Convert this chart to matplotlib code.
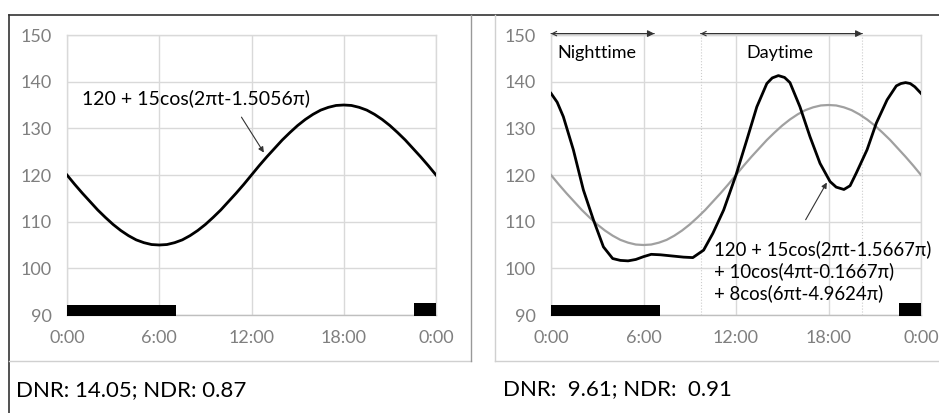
import matplotlib.pyplot as plt
from matplotlib.lines import Line2D

plt.rcParams['font.family'] = ['Lato', 'DejaVu Sans']

# --- data ---
hours = [i * 0.5 for i in range(49)]
single_bp = [120.0, 118.0, 116.1, 114.3, 112.5, 110.9, 109.4, 108.1, 107.0, 106.1,
             105.5, 105.1, 105.0,
             105.1, 105.5, 106.1, 107.0, 108.1, 109.4, 110.9, 112.5, 114.3, 116.1,
             118.0, 120.0,
             122.0, 123.9, 125.7, 127.5, 129.1, 130.6, 131.9, 133.0, 133.9, 134.5,
             134.9, 135.0,
             134.9, 134.5, 133.9, 133.0, 131.9, 130.6, 129.1, 127.5, 125.7, 123.9,
             122.0, 120.0]

multi_hours = [0, 0.4, 0.8, 1.45, 2.1, 2.75, 3.4, 4.0, 4.5, 5.0, 5.5, 6.0, 6.5, 7.1,
               8.0, 8.6, 9.2, 9.9, 10.5, 11.2, 12.0, 12.7, 13.35, 14.0, 14.35, 14.75,
               15.15, 15.5, 16.15, 16.8, 17.45, 18.1, 18.5, 19.0, 19.4, 19.8, 20.5,
               21.1, 21.8, 22.4, 22.7, 23.0, 23.3, 23.6, 24]
multi_bp = [137.5, 135.6, 132.5, 125.4, 116.8, 110.4, 104.6, 102.1, 101.7, 101.6,
            101.9, 102.5, 103.0, 102.9, 102.6, 102.4, 102.3, 103.9, 107.5, 112.5,
            120.0, 127.5, 134.6, 139.6, 140.8, 141.3, 140.9, 139.8, 134.6, 128.2,
            122.5, 118.6, 117.4, 116.9, 117.7, 120.4, 125.4, 131.1, 136.1, 139.1,
            139.6, 139.8, 139.6, 138.9, 137.5]

night_start = [0, 22.6]
night_len = [7.1, 1.4]
night_span = (0, 6.7)
day_span = (9.7, 20.2)

xticks = [0, 6, 12, 18, 24]
xlabels = ['0:00', '6:00', '12:00', '18:00', '0:00']
yticks = [90, 100, 110, 120, 130, 140, 150]

left_eq = '120 + 15cos(2\u03c0t-1.5056\u03c0)'
right_eq = ('120 + 15cos(2\u03c0t-1.5667\u03c0)\n+ 10cos(4\u03c0t-0.1667\u03c0)\n'
            '+ 8cos(6\u03c0t-4.9624\u03c0)')
left_note = 'DNR: 14.05; NDR: 0.87'
right_note = 'DNR:  9.61; NDR:  0.91'

fig = plt.figure(figsize=(9.39, 4.13), dpi=100)
ax1 = fig.add_axes([67 / 939, 1 - 315 / 413, 369 / 939, 280 / 413])
ax2 = fig.add_axes([551 / 939, 1 - 315 / 413, 370 / 939, 280 / 413])

grid_c = '#d9d9d9'
for ax in (ax1, ax2):
    ax.set_xlim(0, 24)
    ax.set_ylim(90, 150)
    ax.set_xticks(xticks)
    ax.set_xticklabels(xlabels)
    ax.set_yticks(yticks)
    ax.grid(True, color=grid_c, lw=1)
    ax.set_axisbelow(True)
    for s in ax.spines.values():
        s.set_color(grid_c)
        s.set_linewidth(1)
    ax.spines['bottom'].set_color('#bfbfbf')
    ax.tick_params(length=0, labelcolor='#7f7f7f', labelsize=13)
    ax.tick_params(axis='x', pad=11)
    ax.tick_params(axis='y', pad=11)
    ax.bar(night_start, [2.5, 2.8], width=night_len, bottom=89.7, align='edge',
           color='black', clip_on=False, zorder=3)

# left panel
ax1.plot(hours, single_bp, color='black', lw=2.0, zorder=4)
ax1.text(1.0, 136.5, left_eq, fontsize=14, va='center', ha='left')
ax1.annotate('', xy=(12.9, 124.3), xytext=(11.25, 132.9),
             arrowprops=dict(arrowstyle='-|>', color='#333333', lw=0.8,
                             mutation_scale=8))

# right panel
ax2.plot(hours, single_bp, color='#a0a0a0', lw=1.6, zorder=3)
ax2.plot(multi_hours, multi_bp, color='black', lw=2.0, zorder=4)
for x in (day_span[0], day_span[1]):
    ax2.plot([x, x], [90, 150], color='#cccccc', lw=0.8, ls=':', zorder=1)
for a, b in (night_span, day_span):
    ax2.annotate('', xy=(b, 150.3), xytext=(a, 150.3), annotation_clip=False,
                 arrowprops=dict(arrowstyle='-|>', color='#333333', lw=0.8,
                                 mutation_scale=10, shrinkA=0, shrinkB=0))
    ax2.annotate('', xy=(a, 150.3), xytext=(b, 150.3), annotation_clip=False,
                 arrowprops=dict(arrowstyle='->', color='#333333', lw=0.8,
                                 mutation_scale=8, shrinkA=0, shrinkB=0))
ax2.text(0.4, 146.2, 'Nighttime', fontsize=13, va='center', ha='left')
ax2.text(14.85, 146.2, 'Daytime', fontsize=13, va='center', ha='center')
ax2.text(10.55, 99.4, right_eq, fontsize=13.4, va='center', ha='left',
         linespacing=1.3, zorder=5)
ax2.annotate('', xy=(17.98, 118.9), xytext=(16.43, 109.9),
             arrowprops=dict(arrowstyle='-|>', color='#333333', lw=0.8,
                             mutation_scale=8))

# panel frames
W, H = 939, 413
def fline(x0, y0, x1, y1, c, lw):
    fig.add_artist(Line2D([x0 / W, x1 / W], [1 - y0 / H, 1 - y1 / H],
                          color=c, lw=lw, transform=fig.transFigure))

fline(9, 15, 939, 15, '#333333', 1.2)
fline(9, 15, 9, 413, '#333333', 1.2)
fline(9, 361, 471, 361, '#d0d0d0', 1)
fline(471, 15, 471, 361, '#999999', 1)
fline(495, 15, 495, 361, '#d0d0d0', 1)
fline(495, 361, 939, 361, '#d0d0d0', 1)

fig.text(16 / W, 1 - 390 / H, left_note, fontsize=16, va='center', ha='left')
fig.text(503 / W, 1 - 389 / H, right_note, fontsize=16, va='center', ha='left')

fig.savefig('out.png', dpi=100)
